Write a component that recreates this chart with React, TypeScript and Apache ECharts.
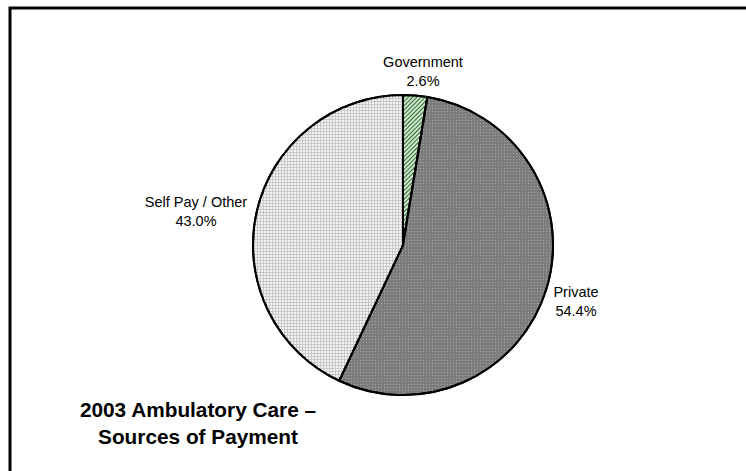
import React, { useEffect, useRef } from "react";
import * as echarts from "echarts";

const categories = ["Government", "Private", "Self Pay / Other"];
const shares = [2.6, 54.4, 43.0];
const titleLines = ["2003 Ambulatory Care –", "Sources of Payment"];

const labelSpots: Record<string, [number, number]> = {
  Government: [423, 71],
  Private: [576, 301],
  "Self Pay / Other": [196, 211],
};

export default function App() {
  const ref = useRef<HTMLDivElement>(null);
  useEffect(() => {
    if (!ref.current) return;
    const chart = echarts.init(ref.current, undefined, { renderer: "svg" });
    const styles = [
      {
        color: "#cfe6cf",
        decal: {
          symbol: "rect",
          symbolSize: 1,
          dashArrayX: [1, 0],
          dashArrayY: [1, 2],
          rotation: -Math.PI / 4,
          color: "#2f6b2f",
        },
      },
      {
        color: "#7c7c7c",
        decal: {
          symbol: "rect",
          symbolSize: 1,
          dashArrayX: [1, 2],
          dashArrayY: [1, 2],
          color: "#a6a6a6",
        },
      },
      {
        color: "#c8c8c8",
        decal: {
          symbol: "rect",
          symbolSize: 1,
          dashArrayX: [2, 1],
          dashArrayY: [2, 1],
          color: "#f4f4f4",
        },
      },
    ];
    chart.setOption({
      animation: false,
      backgroundColor: "#ffffff",
      graphic: [
        {
          type: "rect",
          shape: { x: 10, y: 8, width: 800, height: 600 },
          style: { fill: "none", stroke: "#000", lineWidth: 3 },
          z: 0,
        },
        {
          type: "text",
          x: 198,
          y: 423,
          style: {
            text: titleLines.join("\n"),
            font: "bold 20.8px 'Liberation Sans', Arial, sans-serif",
            fill: "#000",
            align: "center",
            verticalAlign: "middle",
            lineHeight: 27,
          },
        },
      ],
      series: [
        {
          type: "pie",
          center: [403, 245],
          radius: [0, 150],
          startAngle: 90,
          clockwise: true,
          avoidLabelOverlap: false,
          itemStyle: { borderColor: "#000", borderWidth: 2 },
          label: {
            show: true,
            position: "outside",
            formatter: (p: any) => `${p.name}\n${p.value.toFixed(1)}%`,
            fontFamily: "'Liberation Sans', Arial, sans-serif",
            fontSize: 14.5,
            color: "#000",
            lineHeight: 19,
            align: "center",
          },
          labelLine: { show: false },
          labelLayout: (params: any) => {
            const name = categories[params.dataIndex];
            const [x, y] = labelSpots[name];
            return { x, y, align: "center", verticalAlign: "middle" };
          },
          data: categories.map((name, i) => ({
            name,
            value: shares[i],
            itemStyle: styles[i],
          })),
        },
      ],
    });
    return () => chart.dispose();
  }, []);
  return (
    <div
      ref={ref}
      style={{ position: "fixed", left: 0, top: 0, width: 746, height: 471 }}
    />
  );
}
